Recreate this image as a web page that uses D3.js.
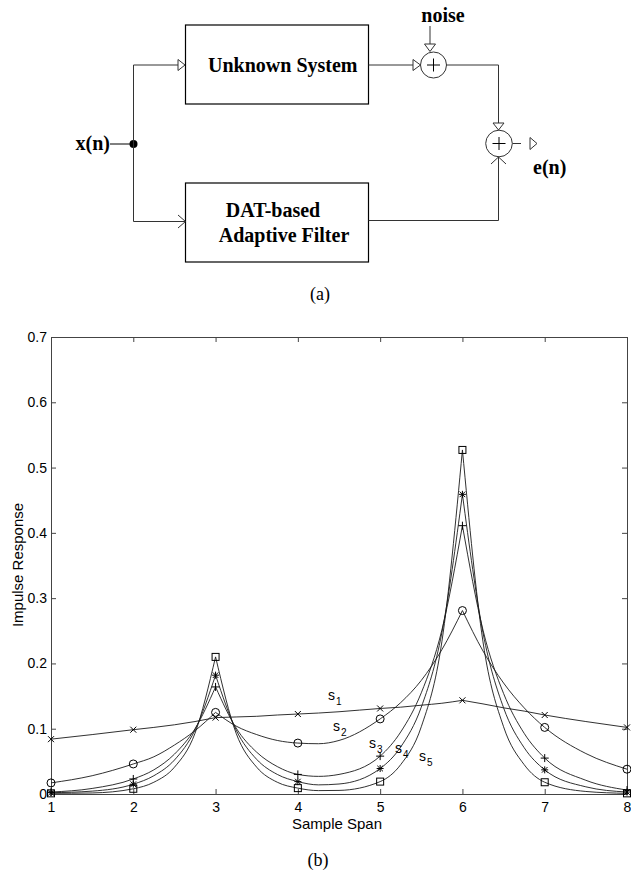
<!DOCTYPE html>
<html><head><meta charset="utf-8">
<script src="https://cdn.jsdelivr.net/npm/d3@7"></script>
<style>body{margin:0;background:#fff}</style>
</head><body>
<svg id="c" width="631" height="873"></svg>
<script>
// ---------- data ----------
const samplePos = [1,1.5,2,2.25,2.5,2.75,3,3.25,3.5,3.75,4,4.25,4.5,5,5.25,5.5,5.75,6,6.25,6.5,6.75,7,7.5,8];
const s1 = [0.084,0.091,0.0985,0.102,0.106,0.111,0.117,0.118,0.119,0.121,0.1225,0.124,0.126,0.131,0.133,0.136,0.139,0.1435,0.138,0.132,0.127,0.121,0.111,0.102];
const s2 = [0.017,0.028,0.046,0.057,0.075,0.097,0.125,0.104,0.091,0.082,0.078,0.077,0.082,0.115,0.140,0.174,0.221,0.281,0.219,0.170,0.132,0.102,0.062,0.038];
const s3 = [0.003,0.0085,0.023,0.037,0.061,0.100,0.164,0.101,0.064,0.042,0.030,0.027,0.030,0.058,0.095,0.155,0.251,0.411,0.251,0.154,0.093,0.055,0.021,0.006];
const s4 = [0.002,0.0044,0.015,0.028,0.052,0.098,0.182,0.098,0.053,0.030,0.019,0.014,0.0153,0.039,0.072,0.133,0.247,0.459,0.247,0.132,0.071,0.037,0.011,0.003];
const s5 = [0.001,0.0016,0.008,0.018,0.041,0.093,0.210,0.093,0.041,0.018,0.009,0.0052,0.0055,0.019,0.045,0.103,0.233,0.527,0.233,0.103,0.045,0.018,0.0039,0.001];
const peakPos = [3,6];
const seriesLabels = ["1","2","3","4","5"];
const markerKinds = ["x","o","+","*","square"];
const xTicks = [1,2,3,4,5,6,7,8];
const yTicks = [0,0.1,0.2,0.3,0.4,0.5,0.6,0.7];
const yTickLabels = ["0","0.1","0.2","0.3","0.4","0.5","0.6","0.7"];
const xTitle = "Sample Span";
const yTitle = "Impulse Response";

const svg = d3.select("#c");
svg.append("rect").attr("width",631).attr("height",873).attr("fill","#fff");

// ---------- (a) block diagram ----------
const serif = "'Liberation Serif','Times New Roman',serif";
const bd = svg.append("g").attr("fill","none");
const lineCol = "#333";
function ln(x1,y1,x2,y2,col){ bd.append("line").attr("x1",x1).attr("y1",y1).attr("x2",x2).attr("y2",y2).attr("stroke",col||lineCol).attr("stroke-width",1); }
function tri(points){ bd.append("polygon").attr("points",points.map(p=>p.join(",")).join(" ")).attr("fill","#fff").attr("stroke",lineCol).attr("stroke-width",1); }
function pl(points){ bd.append("polyline").attr("points",points.map(p=>p.join(",")).join(" ")).attr("fill","none").attr("stroke",lineCol).attr("stroke-width",1); }
// boxes
bd.append("rect").attr("x",185.5).attr("y",25).attr("width",183).attr("height",79).attr("stroke","#000").attr("stroke-width",1.2);
bd.append("rect").attr("x",185.5).attr("y",183).attr("width",183).attr("height",79).attr("stroke","#000").attr("stroke-width",1.2);
// input
ln(110,144,133,144,"#000");
bd.append("circle").attr("cx",133.5).attr("cy",144).attr("r",4).attr("fill","#000");
ln(133.5,65,133.5,221.5);
ln(133.5,65,178,65);
tri([[178,59.5],[185,65],[178,70.5]]);
ln(133.5,221.5,185,221.5);
pl([[178,215],[185.5,221.5],[178,228]]);
// unknown system output to sum1
ln(368.5,65,413,65);
tri([[413,59.5],[420.5,65],[413,70.5]]);
bd.append("circle").attr("cx",433.5).attr("cy",65).attr("r",13).attr("stroke",lineCol);
ln(427,65,440,65,"#000"); ln(433.5,58.5,433.5,71.5,"#000");
// noise
ln(430,26,430,44);
tri([[424.5,44],[430,51.5],[435.5,44]]);
// sum1 to sum2
ln(446.5,65,498.5,65);
ln(498.5,65,498.5,123);
tri([[493,123],[498.5,130],[504,123]]);
bd.append("circle").attr("cx",499).attr("cy",143.5).attr("r",13.3).attr("stroke",lineCol);
ln(492.5,143.5,505.5,143.5,"#000"); ln(499,137,499,150,"#000");
// adaptive filter output
ln(368.5,220.5,498.5,220.5);
ln(498.5,220.5,498.5,157);
pl([[491,164],[498.5,157],[506,164]]);
// output
ln(512.5,143.5,521,143.5);
tri([[530,137.5],[537,143.5],[530,149.5]]);
// texts
const tb = svg.append("g").attr("font-family",serif).attr("font-weight","bold").attr("font-size",20).attr("fill","#000");
tb.append("text").attr("x",208).attr("y",71.5).text("Unknown System");
tb.append("text").attr("x",273).attr("y",216.5).attr("text-anchor","middle").text("DAT-based");
tb.append("text").attr("x",284).attr("y",241.5).attr("text-anchor","middle").text("Adaptive Filter");
tb.append("text").attr("x",443).attr("y",22).attr("text-anchor","middle").text("noise");
tb.append("text").attr("x",110).attr("y",150).attr("text-anchor","end").text("x(n)");
tb.append("text").attr("x",533).attr("y",174).text("e(n)");
svg.append("text").attr("x",320).attr("y",300).attr("text-anchor","middle").attr("font-family",serif).attr("font-size",18).text("(a)");
svg.append("text").attr("x",318).attr("y",866).attr("text-anchor","middle").attr("font-family",serif).attr("font-size",18).text("(b)");

// ---------- (b) plot ----------
const sans = "'Liberation Sans',Arial,Helvetica,sans-serif";
const x = d3.scaleLinear().domain([1,8]).range([51,627]);
const y = d3.scaleLinear().domain([0,0.7]).range([794,337]);
const g = svg.append("g");
const axCol = "#444";
function styleAxis(sel){
  sel.selectAll("path").attr("stroke",axCol).attr("stroke-width",1);
  sel.selectAll("line").attr("stroke",axCol).attr("stroke-width",1);
  sel.selectAll("text").attr("font-family",sans).attr("font-size",14).attr("fill","#000");
}
g.append("g").attr("transform",`translate(0,${y(0)})`)
  .call(d3.axisBottom(x).tickValues(xTicks).tickFormat(d3.format("d")).tickSizeInner(-5).tickSizeOuter(0).tickPadding(8))
  .call(styleAxis);
g.append("g").attr("transform",`translate(${x(1)},0)`)
  .call(d3.axisLeft(y).tickValues(yTicks).tickFormat((d,i)=>yTickLabels[i]).tickSizeInner(-5).tickSizeOuter(0).tickPadding(4))
  .call(styleAxis);
g.append("g").attr("transform",`translate(0,${y(0.7)})`)
  .call(d3.axisTop(x).tickValues(xTicks).tickFormat("").tickSizeInner(-5).tickSizeOuter(0))
  .call(styleAxis);
g.append("g").attr("transform",`translate(${x(8)},0)`)
  .call(d3.axisRight(y).tickValues(yTicks).tickFormat("").tickSizeInner(-5).tickSizeOuter(0))
  .call(styleAxis);
g.selectAll(".domain").attr("fill","none");

// titles
svg.append("text").attr("x",337).attr("y",829).attr("text-anchor","middle").attr("font-family",sans).attr("font-size",15).text(xTitle);
svg.append("text").attr("transform","translate(23,565) rotate(-90)").attr("text-anchor","middle").attr("font-family",sans).attr("font-size",15).text(yTitle);

// curves
const series = [s1,s2,s3,s4,s5];
const curveCol = "#1a1a1a";
const lineGen = d3.line().x(d=>x(d[0])).y(d=>y(d[1])).curve(d3.curveMonotoneX);
const bounds = [samplePos[0], ...peakPos, samplePos[samplePos.length-1]];
series.forEach(vals=>{
  const pts = samplePos.map((t,i)=>[t,vals[i]]);
  for(let k=0;k<bounds.length-1;k++){
    const seg = pts.filter(p=>p[0]>=bounds[k] && p[0]<=bounds[k+1]);
    g.append("path").attr("d",lineGen(seg)).attr("fill","none").attr("stroke",curveCol).attr("stroke-width",0.9);
  }
});

// markers
function drawMarker(kind,cx,cy){
  const m = g.append("g").attr("stroke","#000").attr("stroke-width",1).attr("fill","none");
  const cross = h=>{ m.append("line").attr("x1",cx-h).attr("y1",cy-h).attr("x2",cx+h).attr("y2",cy+h);
                     m.append("line").attr("x1",cx-h).attr("y1",cy+h).attr("x2",cx+h).attr("y2",cy-h); };
  const plus = h=>{ m.append("line").attr("x1",cx-h).attr("y1",cy).attr("x2",cx+h).attr("y2",cy);
                    m.append("line").attr("x1",cx).attr("y1",cy-h).attr("x2",cx).attr("y2",cy+h); };
  if(kind==="x") cross(3);
  else if(kind==="o") m.append("circle").attr("cx",cx).attr("cy",cy).attr("r",4);
  else if(kind==="+") plus(4);
  else if(kind==="*"){ plus(3.5); cross(2.8); }
  else m.append("rect").attr("x",cx-3.5).attr("y",cy-3.5).attr("width",7).attr("height",7);
}
series.forEach((vals,si)=>{
  samplePos.forEach((t,i)=>{ if(Number.isInteger(t)) drawMarker(markerKinds[si], x(t), y(vals[i])); });
});

// series labels s1..s5
const labPos = [[328,700],[333,731],[369,748],[395,753],[419,761]];
seriesLabels.forEach((l,i)=>{
  const t = svg.append("text").attr("x",labPos[i][0]).attr("y",labPos[i][1]).attr("font-family",sans).attr("font-size",14).text("s");
  t.append("tspan").attr("dx",1).attr("dy",5).attr("font-size",10).text(l);
});
</script>
</body></html>
